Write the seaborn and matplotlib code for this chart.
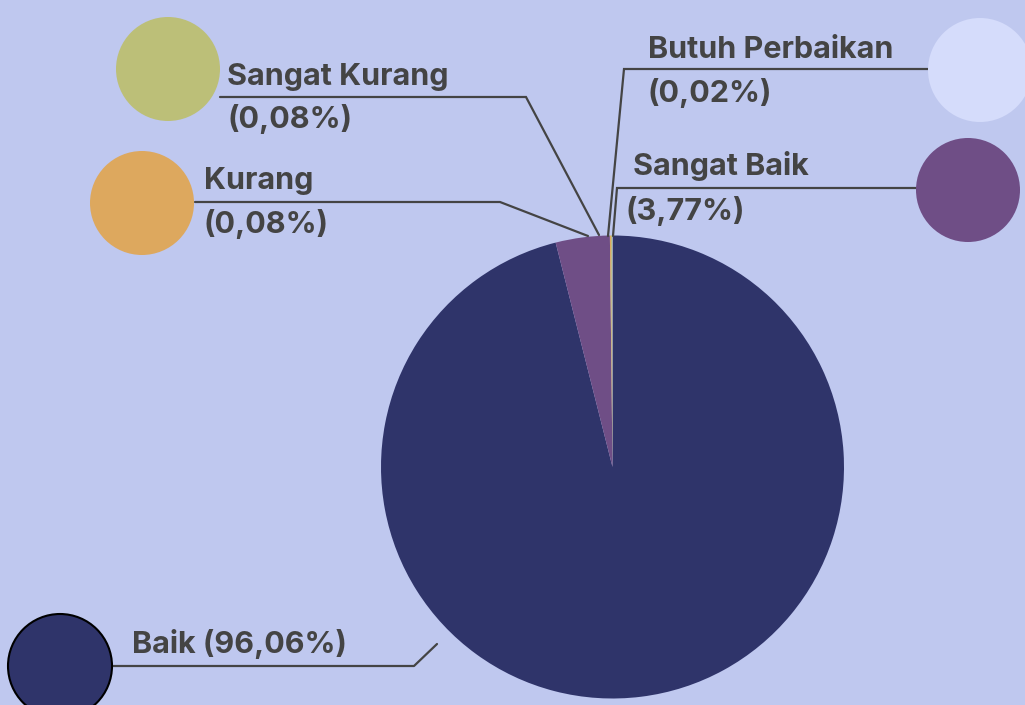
import matplotlib
matplotlib.use("Agg")
import matplotlib.pyplot as plt
from matplotlib.patches import Circle
import seaborn as sns

# ------------------ DATA ------------------ #
categories = ["Baik", "Sangat Baik", "Kurang", "Sangat Kurang", "Butuh Perbaikan"]
shares = [96.06, 3.77, 0.08, 0.08, 0.02]
colors = ["#2F346A", "#6F4E86", "#DDA85E", "#BCBF78", "#D5DCFB"]

# ------------------ STYLE ------------------ #
sns.set_theme(style="white")
plt.rcParams["font.family"] = ["Inter", "DejaVu Sans"]
BG = "#BFC8EF"
INK = "#444444"
FS = 22

fig = plt.figure(figsize=(10.25, 7.05), dpi=100, facecolor=BG)
ax = fig.add_axes([0, 0, 1, 1], facecolor=BG)

# pie (y axis is flipped, so -90 is the top and "counterclock" runs clockwise on screen)
ax.pie(shares, colors=colors, startangle=-90, counterclock=True,
       center=(612.5, 467), radius=231.5, frame=True,
       wedgeprops=dict(linewidth=0))
ax.set_xlim(0, 1025)
ax.set_ylim(705, 0)
ax.set_aspect("equal")
ax.axis("off")


def pct(v):
    return f"({v:.2f}%)".replace(".", ",")


# label layout: circle centre, text x, name baseline, pct baseline, leader line
layout = {
    "Sangat Kurang": dict(dot=(168, 69), tx=227, y1=85, y2=128,
                          line=[(220, 97), (526, 97), (599, 235)]),
    "Kurang": dict(dot=(142, 203), tx=204, y1=189, y2=233,
                   line=[(195, 202), (500, 202), (588, 236)]),
    "Butuh Perbaikan": dict(dot=(980, 70), tx=648, y1=58, y2=102,
                            line=[(928, 69), (624, 69), (608, 236)]),
    "Sangat Baik": dict(dot=(968, 190), tx=633, y1=175, y2=220, tx2=626,
                        line=[(916, 188), (617, 188), (613, 236)]),
}

for name, val, col in zip(categories, shares, colors):
    if name == "Baik":
        continue
    L = layout[name]
    ax.add_patch(Circle(L["dot"], 52, facecolor=col, edgecolor="none", zorder=3))
    xs, ys = zip(*L["line"])
    ax.plot(xs, ys, color=INK, lw=1.6, zorder=2, solid_joinstyle="miter")
    ax.text(L["tx"], L["y1"], name, color=INK, fontsize=FS, fontweight="bold",
            va="baseline", ha="left")
    ax.text(L.get("tx2", L["tx"]), L["y2"], pct(val), color=INK, fontsize=FS,
            fontweight="bold", va="baseline", ha="left")

# Baik label sits on one line
ax.add_patch(Circle((60, 666), 52, facecolor=colors[0], edgecolor="black",
                    lw=1.5, zorder=3))
ax.plot([113, 414, 437], [666, 666, 644], color=INK, lw=1.6, zorder=2)
ax.text(132, 653, f"{categories[0]} {pct(shares[0])}", color=INK, fontsize=FS,
        fontweight="bold", va="baseline", ha="left")

fig.savefig("out.png", dpi=100, facecolor=BG)
